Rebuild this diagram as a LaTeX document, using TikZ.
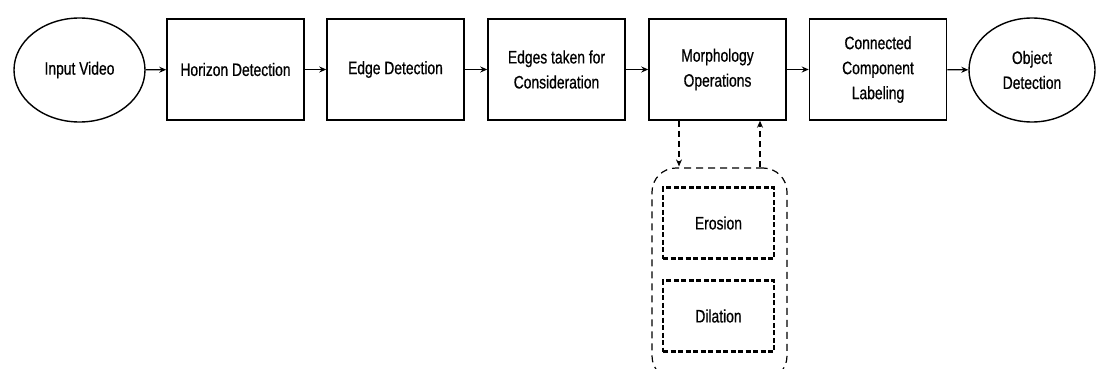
\documentclass[tikz,border=0pt]{standalone}
\usepackage{fontspec}
\setmainfont{Liberation Sans}[FakeStretch=0.77,FakeBold=0.6]
\usetikzlibrary{arrows.meta,calc,shapes.geometric}
\begin{document}
\begin{tikzpicture}[x=1pt,y=-1pt,
  every node/.style={font=\fontsize{18}{25}\selectfont, align=center, inner sep=0pt},
  blk/.style={draw, line width=1.5pt, minimum width=137pt, minimum height=101pt},
  oval/.style={draw, ellipse, line width=1.4pt, minimum width=131pt, minimum height=104pt},
  arr/.style={line width=1.3pt, -{Stealth[length=7pt,width=6pt]}},
  darr/.style={line width=1.5pt, dash pattern=on 6pt off 4pt, -{Stealth[length=7pt,width=6pt]}},
  cont/.style={draw, line width=1.2pt, rounded corners=24pt, dash pattern=on 7pt off 5pt, minimum width=135pt, minimum height=212pt},
  dbox/.style={draw, line width=2.2pt, dash pattern=on 5pt off 2.5pt, minimum width=111pt, minimum height=71pt}
]
\useasboundingbox (0,0) rectangle (1097,369);
\begin{scope}
\clip (0,0) rectangle (1097,369);
\node[oval] (in) at (79.5,70) {Input Video};
\node[blk] (hor) at (235.5,69.5) {Horizon Detection};
\node[blk] (edge) at (395.5,69.5) {Edge Detection};
\node[blk] (cons) at (556.5,69.5) {Edges taken for\\Consideration};
\node[blk] (morph) at (717.5,69.5) {Morphology\\Operations};
\node[blk] (ccl) at (878,69.5) {Connected\\Component\\Labeling};
\node[oval, minimum width=126pt] (obj) at (1032,70) {Object\\Detection};
\node[cont] (grp) at (719.5,274) {};
\node[dbox] (ero) at (718.5,223) {Erosion};
\node[dbox] (dil) at (718.5,316) {Dilation};
\draw[arr] (in) -- (hor);
\draw[arr] (hor) -- (edge);
\draw[arr] (edge) -- (cons);
\draw[arr] (cons) -- (morph);
\draw[arr] (morph) -- (ccl);
\draw[arr] (ccl) -- (obj);
\draw[darr] ($(morph.south)+(-38.5,0)$) -- ($(grp.north)+(-40.5,-1)$);
\draw[darr] ($(grp.north)+(40.5,0)$) -- ($(morph.south)+(42.5,0)$);
\end{scope}
\end{tikzpicture}
\end{document}
